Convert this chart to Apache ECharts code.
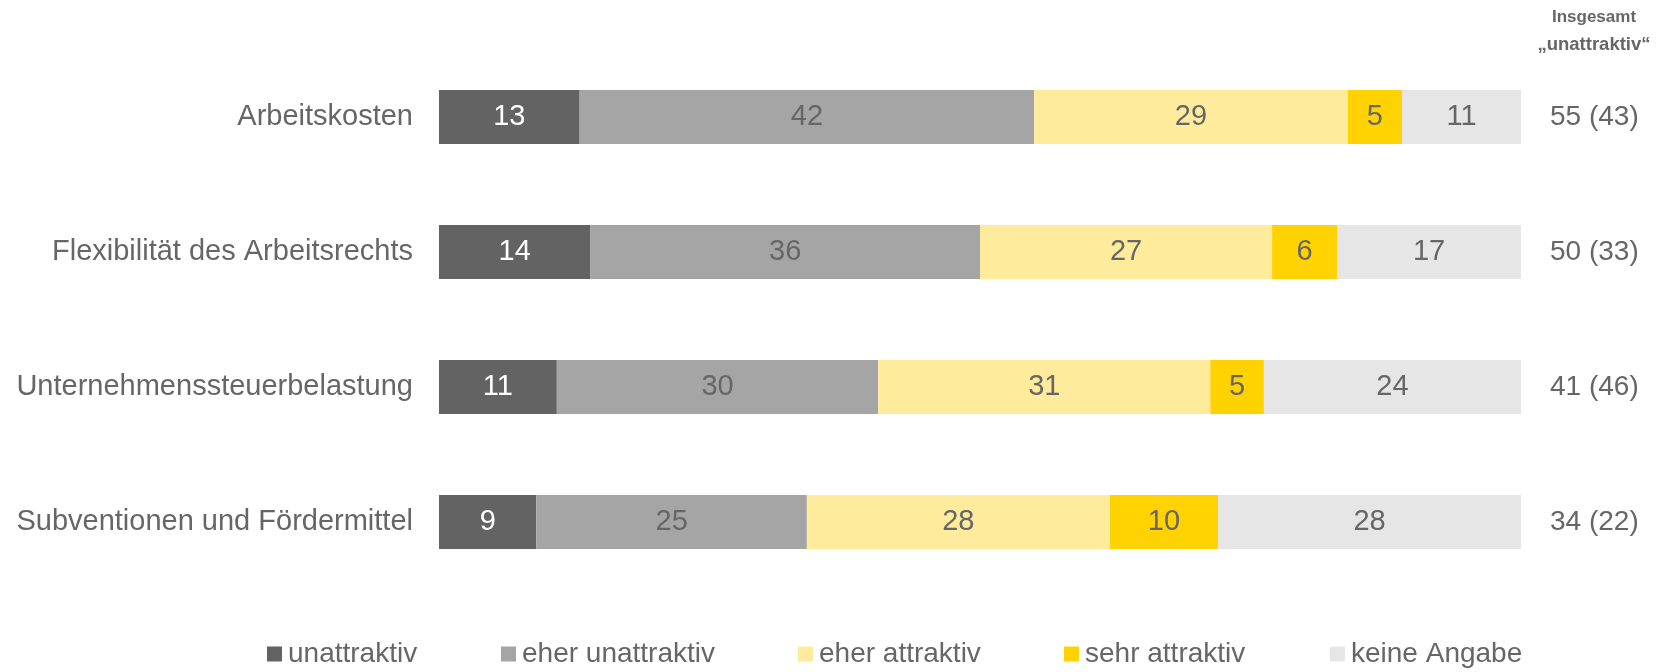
<!DOCTYPE html>
<html>
<head>
<meta charset="utf-8">
<script src="https://cdn.jsdelivr.net/npm/echarts@6/dist/echarts.min.js"></script>
<style>
  html, body { margin: 0; padding: 0; background: #fff; }
  #chart { width: 1669px; height: 672px; }
</style>
</head>
<body>
<div id="chart"></div>
<script>
const categories = ['Arbeitskosten', 'Flexibilität des Arbeitsrechts', 'Unternehmenssteuerbelastung', 'Subventionen und Fördermittel'];
const totals = ['55 (43)', '50 (33)', '41 (46)', '34 (22)'];
const seriesNames = ['unattraktiv', 'eher unattraktiv', 'eher attraktiv', 'sehr attraktiv', 'keine Angabe'];
const unattraktiv = [13, 14, 11, 9];
const eherUnattraktiv = [42, 36, 30, 25];
const eherAttraktiv = [29, 27, 31, 28];
const sehrAttraktiv = [5, 6, 5, 10];
const keineAngabe = [11, 17, 24, 28];

const colors = ['#636363', '#a5a5a5', '#ffeb9c', '#ffd200', '#e6e6e6'];
const labelColors = ['#ffffff', '#666666', '#666666', '#666666', '#666666'];
const allValues = [unattraktiv, eherUnattraktiv, eherAttraktiv, sehrAttraktiv, keineAngabe];

// rows are scaled to fill 100 (one row adds up to 101 because of rounding)
const rowSums = categories.map((c, i) => allValues.reduce((s, arr) => s + arr[i], 0));

const myChart = echarts.init(document.getElementById('chart'));
const font = 'Liberation Sans, Arial, sans-serif';

const series = allValues.map((vals, k) => ({
  name: seriesNames[k],
  type: 'bar',
  stack: 'total',
  barWidth: 54,
  itemStyle: { color: colors[k] },
  label: {
    show: true,
    position: 'inside',
    color: labelColors[k],
    fontSize: 29,
    fontFamily: font,
    formatter: (p) => vals[p.dataIndex]
  },
  emphasis: { disabled: true },
  data: vals.map((v, i) => v / rowSums[i] * 100)
}));

const legendLefts = [267, 501, 798, 1064, 1330];
const legends = seriesNames.map((n, k) => ({
  data: [n],
  left: legendLefts[k],
  top: 640,
  padding: 0,
  icon: 'rect',
  itemWidth: 15,
  itemHeight: 15,
  selectedMode: false,
  textStyle: { fontSize: 28, color: '#666666', fontFamily: font, padding: [0, 0, 0, 1] }
}));

const option = {
  animation: false,
  color: colors,
  legend: legends,
  graphic: [{
    type: 'text',
    x: 1594,
    y: 5,
    style: {
      text: '{a|Insgesamt}\n{b|„unattraktiv“}',
      align: 'center',
      fill: '#666666',
      fontFamily: font,
      fontWeight: 'bold',
      rich: {
        a: { fontSize: 17, fontWeight: 'bold', lineHeight: 25, fill: '#666666', fontFamily: font },
        b: { fontSize: 18.5, fontWeight: 'bold', lineHeight: 30, fill: '#666666', fontFamily: font }
      }
    }
  }],
  grid: { left: 439, right: 148, top: 49.5, bottom: 82.5, containLabel: false },
  xAxis: { type: 'value', min: 0, max: 100, show: false },
  yAxis: [
    {
      type: 'category',
      inverse: true,
      data: categories,
      axisLine: { show: false },
      axisTick: { show: false },
      axisLabel: { margin: 26, fontSize: 29, color: '#666666', fontFamily: font }
    },
    {
      type: 'category',
      inverse: true,
      position: 'right',
      data: totals,
      axisLine: { show: false },
      axisTick: { show: false },
      axisLabel: { margin: 29, fontSize: 28, color: '#666666', fontFamily: font }
    }
  ],
  series: series
};

myChart.setOption(option);
</script>
</body>
</html>
